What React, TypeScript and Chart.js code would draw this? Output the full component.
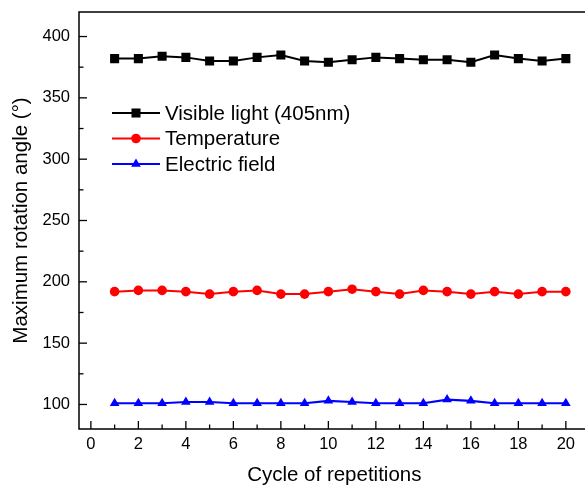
import React, { useEffect, useRef } from "react";
import { Chart, registerables } from "chart.js";

Chart.register(...registerables);

const cycles = [1, 2, 3, 4, 5, 6, 7, 8, 9, 10, 11, 12, 13, 14, 15, 16, 17, 18, 19, 20];
const visibleLight = [382, 382, 384, 383, 380, 380, 383, 385, 380, 379, 381, 383, 382, 381, 381, 379, 385, 382, 380, 382];
const temperature = [192, 193, 193, 192, 190, 192, 193, 190, 190, 192, 194, 192, 190, 193, 192, 190, 192, 190, 192, 192];
const electricField = [101, 101, 101, 102, 102, 101, 101, 101, 101, 103, 102, 101, 101, 101, 104, 103, 101, 101, 101, 101];

const seriesLabels = ["Visible light (405nm)", "Temperature", "Electric field"];
const xTitle = "Cycle of repetitions";
const yTitle = "Maximum rotation angle (\u00B0)";

const FONT = "'Liberation Sans', Arial, sans-serif";

function drawMarker(ctx: CanvasRenderingContext2D, style: string, x: number, y: number, r: number, color: string) {
  ctx.save();
  ctx.fillStyle = color;
  ctx.beginPath();
  if (style === "rect") {
    const s = Math.SQRT1_2 * r;
    ctx.rect(x - s, y - s, 2 * s, 2 * s);
  } else if (style === "circle") {
    ctx.arc(x, y, r, 0, Math.PI * 2);
  } else if (style === "triangle") {
    const a = -Math.PI / 2;
    for (let i = 0; i < 3; i++) {
      const ang = a + (i * 2 * Math.PI) / 3;
      const px = x + Math.cos(ang) * r;
      const py = y + Math.sin(ang) * r;
      if (i === 0) ctx.moveTo(px, py);
      else ctx.lineTo(px, py);
    }
    ctx.closePath();
  }
  ctx.fill();
  ctx.restore();
}

const framePlugin = {
  id: "frameTicks",
  afterDraw(chart: any) {
    const { ctx, chartArea, scales } = chart;
    const { left, right, top, bottom } = chartArea;
    ctx.save();
    ctx.strokeStyle = "#000";
    ctx.lineWidth = 1.5;
    ctx.beginPath();
    ctx.moveTo(right + 2, top);
    ctx.lineTo(left, top);
    ctx.lineTo(left, bottom);
    ctx.lineTo(right + 2, bottom);
    ctx.stroke();
    ctx.lineWidth = 1.3;
    scales.x.ticks.forEach((t: any) => {
      const v = t.value;
      const px = scales.x.getPixelForValue(v);
      const major = v % 2 === 0;
      const len = major ? 8 : 4.5;
      ctx.beginPath();
      ctx.moveTo(px, bottom);
      ctx.lineTo(px, bottom - len);
      ctx.stroke();
    });
    scales.y.ticks.forEach((t: any) => {
      const v = t.value;
      const py = scales.y.getPixelForValue(v);
      const major = v % 50 === 0;
      const len = major ? 8 : 4.5;
      ctx.beginPath();
      ctx.moveTo(left, py);
      ctx.lineTo(left + len, py);
      ctx.stroke();
    });
    ctx.restore();
  },
};

const legendPlugin = {
  id: "insideLegend",
  afterDraw(chart: any) {
    const { ctx } = chart;
    const x0 = 112;
    const x1 = 160;
    const y0 = 113;
    const gap = 25.5;
    ctx.save();
    ctx.font = `20.5px ${FONT}`;
    ctx.textBaseline = "middle";
    ctx.textAlign = "left";
    chart.data.datasets.forEach((ds: any, i: number) => {
      const y = y0 + i * gap;
      ctx.strokeStyle = ds.borderColor;
      ctx.lineWidth = ds.borderWidth;
      ctx.beginPath();
      ctx.moveTo(x0, y);
      ctx.lineTo(x1, y);
      ctx.stroke();
      drawMarker(ctx, ds.pointStyle, (x0 + x1) / 2, y, ds.pointRadius, ds.pointBackgroundColor);
      ctx.fillStyle = "#000";
      ctx.fillText(ds.label, 165, y + 1);
    });
    ctx.restore();
  },
};

export default function App() {
  const canvasRef = useRef<HTMLCanvasElement | null>(null);

  useEffect(() => {
    const canvas = canvasRef.current;
    if (!canvas) return;
    const mk = (vals: number[]) => cycles.map((c, i) => ({ x: c, y: vals[i] }));
    const chart = new Chart(canvas, {
      type: "line",
      data: {
        datasets: [
          {
            label: seriesLabels[0],
            data: mk(visibleLight),
            borderColor: "#000000",
            backgroundColor: "#000000",
            pointBackgroundColor: "#000000",
            pointBorderColor: "#000000",
            borderWidth: 2,
            pointStyle: "rect",
            pointRadius: 6.4,
            pointBorderWidth: 0,
          },
          {
            label: seriesLabels[1],
            data: mk(temperature),
            borderColor: "#ff0000",
            backgroundColor: "#ff0000",
            pointBackgroundColor: "#ff0000",
            pointBorderColor: "#ff0000",
            borderWidth: 2,
            pointStyle: "circle",
            pointRadius: 4.8,
            pointBorderWidth: 0,
          },
          {
            label: seriesLabels[2],
            data: mk(electricField),
            borderColor: "#0000ff",
            backgroundColor: "#0000ff",
            pointBackgroundColor: "#0000ff",
            pointBorderColor: "#0000ff",
            borderWidth: 2.2,
            pointStyle: "triangle",
            pointRadius: 5.6,
            pointBorderWidth: 0,
          },
        ] as any,
      },
      options: {
        animation: false,
        responsive: true,
        maintainAspectRatio: false,
        layout: { padding: { left: 0, top: 12, right: 3, bottom: 0 } },
        plugins: {
          legend: { display: false },
          tooltip: { enabled: false },
        },
        scales: {
          x: {
            type: "linear",
            position: "bottom",
            min: -0.5,
            max: 21,
            grid: { display: false, drawTicks: false },
            border: { display: false },
            ticks: {
              stepSize: 1,
              includeBounds: false,
              autoSkip: false,
              maxRotation: 0,
              padding: 6,
              color: "#000",
              font: { family: FONT, size: 16.5 },
              callback: (v: any) => (Number(v) % 2 === 0 && Number(v) >= 0 && Number(v) <= 20 ? String(v) : ""),
            },
            title: {
              display: true,
              text: xTitle,
              color: "#000",
              font: { family: FONT, size: 20.5 },
              padding: { top: 0, bottom: -2 },
            },
            afterFit: (s: any) => {
              s.height = 57;
              s.paddingLeft = 0;
              s.paddingRight = 0;
            },
          },
          y: {
            type: "linear",
            min: 80,
            max: 420,
            grid: { display: false, drawTicks: false },
            border: { display: false },
            ticks: {
              stepSize: 25,
              includeBounds: false,
              autoSkip: false,
              padding: 9,
              color: "#000",
              font: { family: FONT, size: 16.5 },
              callback: (v: any) => (Number(v) % 50 === 0 ? String(v) : ""),
            },
            title: {
              display: true,
              text: yTitle,
              color: "#000",
              font: { family: FONT, size: 20.5 },
              padding: { top: 9, bottom: 0 },
            },
            afterFit: (s: any) => {
              s.width = 79;
              s.paddingTop = 0;
              s.paddingBottom = 0;
            },
          },
        },
      } as any,
      plugins: [framePlugin, legendPlugin],
    });
    return () => chart.destroy();
  }, []);

  return (
    <div style={{ position: "fixed", left: 0, top: 0, width: 585, height: 486, overflow: "hidden", background: "#fff" }}>
      <div style={{ position: "absolute", left: 0, top: 0, width: 596, height: 486 }}>
        <canvas ref={canvasRef} />
      </div>
    </div>
  );
}
